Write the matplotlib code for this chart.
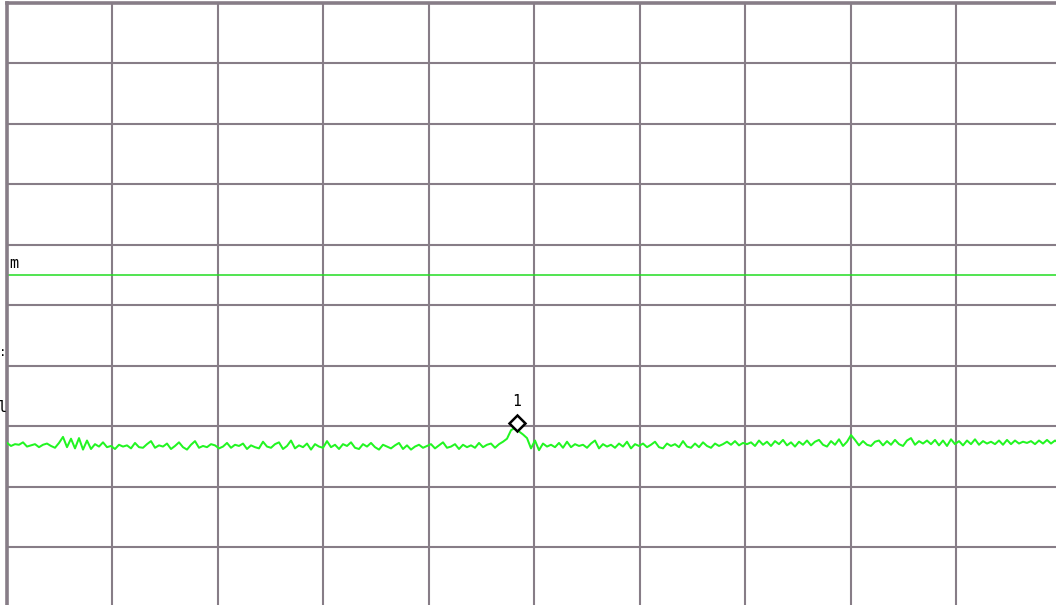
import matplotlib
matplotlib.use("Agg")
import matplotlib.pyplot as plt
import numpy as np

# ---- data (dB, 10 dB/div, reference 0 dB at top) ----
ref_level = 0.0
db_per_div = 10.0
n_div_y = 10
n_div_x = 10
display_line = -45.0

trace_db = [
    -72.8, -73.3, -73.0, -73.1, -72.7, -73.4, -73.2, -73.0, -73.5, -73.1,
    -72.9, -73.3, -73.6, -72.8, -71.8, -73.5, -72.1, -73.7, -72.0, -73.9,
    -72.4, -73.8, -73.0, -73.4, -72.7, -73.5, -73.3, -73.8, -73.1, -73.4,
    -73.2, -73.7, -72.8, -73.5, -73.6, -73.0, -72.5, -73.6, -73.2, -73.4,
    -72.9, -73.8, -73.3, -72.7, -73.5, -73.9, -73.1, -72.5, -73.6, -73.3,
    -73.5, -73.0, -73.2, -73.7, -73.4, -72.8, -73.6, -73.1, -73.3, -72.9,
    -73.8, -73.2, -73.5, -73.7, -72.6, -73.4, -73.6, -73.0, -72.7, -73.8,
    -73.3, -72.4, -73.7, -73.2, -73.5, -72.9, -73.9, -73.0, -73.4, -73.6,
    -72.5, -73.5, -73.1, -73.8, -73.0, -73.3, -72.7, -73.6, -73.8, -73.0,
    -73.4, -72.8, -73.5, -73.9, -73.1, -73.4, -73.7, -73.2, -72.8, -73.8,
    -73.2, -73.9, -73.4, -73.1, -73.6, -73.3, -73.0, -73.7, -73.2, -72.7,
    -73.6, -73.4, -73.0, -73.8, -73.1, -73.5, -73.2, -73.6, -72.8, -73.5,
    -73.1, -72.9, -73.6, -73.0, -72.6, -72.1, -70.7, -70.3, -70.9, -71.4,
    -72.0, -73.7, -72.4, -74.0, -72.9, -73.4, -73.1, -73.5, -72.8, -73.6,
    -72.6, -73.5, -73.0, -73.3, -73.1, -73.6, -72.9, -72.4, -73.7, -73.0,
    -73.4, -73.1, -73.6, -72.9, -73.4, -72.6, -73.7, -73.0, -73.3, -72.9,
    -73.5, -73.1, -72.6, -73.5, -73.7, -72.9, -73.3, -73.0, -73.5, -72.5,
    -73.4, -73.6, -72.9, -73.5, -72.7, -73.3, -73.6, -72.9, -73.3, -73.0,
    -72.6, -73.1, -72.5, -73.2, -72.8, -73.0, -72.7, -73.3, -72.4, -73.1,
    -72.6, -73.3, -72.5, -73.0, -72.3, -73.2, -72.7, -73.4, -72.6, -73.1,
    -72.4, -73.2, -72.6, -72.3, -73.1, -73.4, -72.5, -73.1, -72.2, -73.3,
    -72.6, -71.5, -72.3, -73.2, -72.5, -73.1, -73.3, -72.6, -72.4, -73.2,
    -72.5, -73.1, -72.3, -73.0, -73.3, -72.4, -72.0, -73.1, -72.5, -72.9,
    -72.4, -73.0, -72.3, -73.2, -72.4, -73.3, -72.2, -73.0, -72.5, -73.2,
    -72.4, -73.0, -72.2, -73.1, -72.5, -72.9, -72.6, -73.0, -72.4, -73.1,
    -72.3, -73.0, -72.4, -72.9, -72.6, -72.8, -72.5, -73.0, -72.4, -72.9,
    -72.3, -72.9, -72.4, -72.8,
]
marker_label = "1"
marker_index = 127.5
marker_level = -69.5
trace_label = "m"

W, H = 1056, 605
fig = plt.figure(figsize=(W / 100, H / 100), dpi=100, facecolor="white")
left_px, top_px = 6.5, 2.5
width_px, height_px = 1055.0, 605.0
ax = fig.add_axes([left_px / W, 1 - (top_px + height_px) / H, width_px / W, height_px / H])
ax.set_facecolor("white")

n = len(trace_db)
x = np.arange(n)
xmin, xmax = -0.125, -0.125 + width_px / 4.0
ax.set_xlim(xmin, xmax)
ymax = ref_level
ymin = ref_level - n_div_y * db_per_div
ax.set_ylim(ymin, ymax)

grid_col = "#877d87"
for k in range(1, n_div_x):
    ax.axvline(xmin + k * (xmax - xmin) / n_div_x, color=grid_col, lw=1.5, zorder=1)
for k in range(1, n_div_y):
    ax.axhline(ymax - k * db_per_div, color=grid_col, lw=1.5, zorder=1)

for side in ["top", "right", "bottom"]:
    ax.spines[side].set_visible(False)
ax.spines["left"].set_color(grid_col)
ax.spines["left"].set_linewidth(2.6)
ax.axhline(ymax, color=grid_col, lw=2.6, zorder=1, clip_on=False)
ax.set_xticks([])
ax.set_yticks([])

ax.axhline(display_line, color="#22dd22", lw=1.1, zorder=2)
ax.plot(x, trace_db, color="#22f522", lw=1.45, zorder=3)

ax.plot([marker_index], [marker_level], marker="D", ms=8.5, mfc="white",
        mec="black", mew=1.8, zorder=5, linestyle="none")
ax.annotate(marker_label, (marker_index, marker_level), xytext=(0, 10),
            textcoords="offset points", ha="center", va="bottom",
            fontsize=10.5, family="DejaVu Sans Mono", color="black")

fig.text(9 / W, 1 - 264 / H, trace_label, fontsize=11, family="DejaVu Sans Mono",
         ha="left", va="center", color="black")
fig.text(-1 / W, 1 - 352 / H, ":", fontsize=9, family="DejaVu Sans Mono",
         ha="left", va="center", color="black")
fig.text(-2 / W, 1 - 408 / H, "l", fontsize=11, family="DejaVu Sans Mono",
         ha="left", va="center", color="black")

fig.savefig("out.png", dpi=100, facecolor="white")
